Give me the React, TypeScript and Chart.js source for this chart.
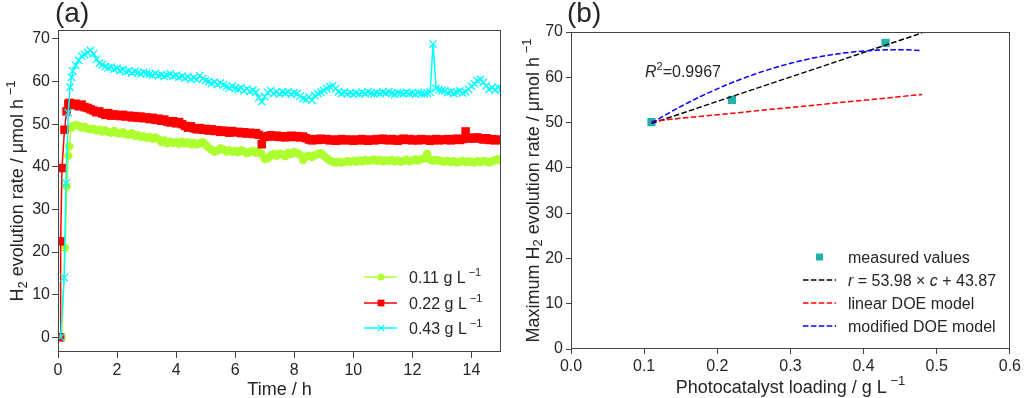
import React, { useEffect, useRef } from "react";
import { Chart, registerables } from "chart.js";

Chart.register(...registerables);

const FONT = "'Liberation Sans', Arial, Helvetica, sans-serif";
const INK = "#262626";
const SPINE = "#444444";

// ---------------- Panel (a): H2 evolution vs time ----------------
const TIME_GRID = [
  0.5, 0.6, 0.7, 0.8, 0.9, 1.0,
  1.1, 1.2, 1.3, 1.4, 1.5, 1.6, 1.7, 1.8, 1.9, 2.0,
  2.1, 2.2, 2.3, 2.4, 2.5, 2.6, 2.7, 2.8, 2.9, 3.0,
  3.1, 3.2, 3.3, 3.4, 3.5, 3.6, 3.7, 3.8, 3.9, 4.0,
  4.1, 4.2, 4.3, 4.4, 4.5, 4.6, 4.7, 4.8, 4.9, 5.0,
  5.1, 5.2, 5.3, 5.4, 5.5, 5.6, 5.7, 5.8, 5.9, 6.0,
  6.1, 6.2, 6.3, 6.4, 6.5, 6.6, 6.7, 6.8, 6.9, 7.0,
  7.1, 7.2, 7.3, 7.4, 7.5, 7.6, 7.7, 7.8, 7.9, 8.0,
  8.1, 8.2, 8.3, 8.4, 8.5, 8.6, 8.7, 8.8, 8.9, 9.0,
  9.1, 9.2, 9.3, 9.4, 9.5, 9.6, 9.7, 9.8, 9.9, 10.0,
  10.1, 10.2, 10.3, 10.4, 10.5, 10.6, 10.7, 10.8, 10.9, 11.0,
  11.1, 11.2, 11.3, 11.4, 11.5, 11.6, 11.7, 11.8, 11.9, 12.0,
  12.1, 12.2, 12.3, 12.4, 12.5, 12.6, 12.7, 12.8, 12.9, 13.0,
  13.1, 13.2, 13.3, 13.4, 13.5, 13.6, 13.7, 13.8, 13.9, 14.0,
  14.1, 14.2, 14.3, 14.4, 14.5, 14.6, 14.7, 14.8, 14.9, 15.0,
];

// 0.11 g/L
const LOW_RAMP_T = [0.12, 0.24, 0.3, 0.35, 0.38, 0.44];
const LOW_RAMP_V = [0, 21.0, 35.4, 42.6, 44.8, 49.1];
const LOW_GRID_V = [
  49.5, 49.8, 49.6, 49.2, 49.4, 49.0,
  48.8, 48.9, 48.5, 48.7, 48.3, 48.6, 48.2, 48.0, 48.4, 47.9,
  47.8, 48.1, 47.6, 47.5, 47.9, 47.3, 47.4, 47.0, 47.2, 46.8,
  47.0, 46.6, 46.9, 46.5, 45.8, 46.2, 45.5, 45.9, 45.6, 45.8,
  45.4, 45.9, 45.5, 45.7, 45.3, 45.6, 45.2, 45.5, 45.8, 45.1,
  44.5, 44.0, 43.5, 43.8, 44.3, 44.1, 43.6, 43.9, 43.5, 43.7,
  43.4, 43.9, 43.6, 43.2, 43.5, 43.7, 43.3, 43.6, 43.0, 41.8,
  42.0, 42.6, 43.0, 42.6, 43.1, 42.9, 42.5, 43.3, 43.0, 43.5,
  43.2, 42.8, 41.6, 42.4, 42.6, 42.3, 42.7, 43.0, 43.2, 42.6,
  42.0, 41.5, 41.2, 41.0, 41.2, 41.0, 41.1, 41.3, 41.2, 41.4,
  41.2, 41.5, 41.3, 41.6, 41.4, 41.5, 41.7, 41.4, 41.6, 41.3,
  41.5, 41.4, 41.6, 41.3, 41.5, 41.2, 41.4, 41.6, 41.3, 41.5,
  41.7, 41.5, 41.8, 42.0, 43.0, 41.7, 41.4, 41.6, 41.5, 41.3,
  41.2, 41.4, 41.1, 41.3, 41.0, 41.2, 41.4, 41.1, 41.3, 41.2,
  41.0, 41.3, 41.1, 41.4, 41.2, 41.0, 41.3, 41.6, 41.8, 41.4,
];

// 0.22 g/L
const MID_RAMP_T = [0.07, 0.09, 0.135, 0.22, 0.29, 0.35, 0.4];
const MID_RAMP_V = [0, 22.5, 39.7, 48.7, 53.0, 54.8, 55.0];
const MID_GRID_V = [
  54.5, 54.8, 54.2, 54.6, 54.0, 53.8,
  53.5, 53.2, 52.8, 53.0, 52.5, 52.2, 52.6, 52.0, 52.3, 52.1,
  51.9, 52.2, 51.8, 52.0, 51.6, 51.9, 51.5, 51.8, 51.4, 51.6,
  51.2, 51.5, 51.0, 51.3, 50.8, 51.1, 50.6, 50.4, 50.7, 50.2,
  50.5, 50.0, 49.6, 49.2, 49.5, 49.0, 48.8, 49.1, 48.7, 48.9,
  48.5, 48.8, 48.4, 48.6, 48.2, 48.5, 48.3, 48.0, 48.4, 48.1,
  48.2, 47.9, 48.1, 47.8, 48.0, 47.7, 47.9, 47.5, 45.3, 47.0,
  47.2, 47.4, 47.1, 47.3, 47.0, 47.2, 46.9, 47.1, 47.3, 47.0,
  47.2, 46.9, 47.1, 46.7, 46.4, 46.2, 46.5, 46.3, 46.6, 46.4,
  46.5, 46.2, 46.4, 46.1, 46.3, 46.5, 46.2, 46.4, 46.3, 46.1,
  46.4, 46.2, 46.5, 46.3, 46.1, 46.4, 46.2, 46.5, 46.3, 46.6,
  46.4, 46.2, 46.5, 46.3, 46.1, 46.4, 46.6, 46.3, 46.5, 46.2,
  46.4, 46.2, 46.5, 46.3, 46.4, 46.1, 46.3, 46.5, 46.2, 46.4,
  46.3, 46.5, 46.2, 46.4, 46.6, 46.3, 46.5, 48.3, 46.8, 46.6,
  46.8, 46.9, 46.6, 46.4, 46.7, 46.3, 46.5, 46.2, 46.4, 46.3,
];

// 0.43 g/L
const HIGH_RAMP_T = [0.09, 0.21, 0.27, 0.35, 0.41, 0.46];
const HIGH_RAMP_V = [0, 14.0, 36.2, 52.7, 58.7, 61.0];
const HIGH_GRID_V = [
  62.5, 63.8, 65.0, 66.0, 66.3, 66.8,
  67.3, 66.5, 65.2, 64.3, 64.0, 63.5, 63.2, 63.4, 62.9, 63.1,
  62.6, 62.8, 62.3, 62.5, 62.0, 62.4, 62.1, 61.8, 62.2, 61.9,
  61.7, 61.5, 61.9, 61.4, 61.6, 61.2, 61.5, 61.8, 61.3, 61.5,
  61.0, 61.3, 60.8, 61.1, 60.6, 60.9, 60.5, 61.4, 60.7, 60.3,
  60.0, 59.6, 59.9, 59.3, 59.7, 59.2, 58.8, 58.5, 58.9, 58.4,
  58.2, 58.6, 57.8, 58.3, 57.7, 58.0, 57.5, 56.2, 55.3, 56.5,
  57.4, 57.9, 57.2, 57.6, 57.1, 57.5, 57.3, 57.6, 57.0, 57.4,
  57.2, 56.6, 56.0, 55.8, 56.4, 55.6, 56.7, 57.2, 57.5, 57.9,
  58.4, 58.8, 59.0, 58.3, 57.6, 57.2, 57.5, 57.1, 57.4, 57.0,
  57.3, 57.1, 57.5, 57.2, 57.6, 57.3, 57.1, 57.4, 57.2, 57.5,
  57.3, 57.6, 57.2, 57.0, 57.4, 57.3, 57.1, 57.5, 57.2, 57.3,
  57.0, 57.4, 57.2, 57.1, 57.3, 57.5, 68.8, 58.4, 58.1, 57.9,
  57.8, 57.4, 57.6, 57.2, 57.5, 57.8, 57.3, 57.6, 58.2, 58.9,
  59.5, 60.2, 60.5, 59.8, 59.0, 58.2, 58.6, 58.0, 58.7, 58.3,
];

const A_X_TICKS = [0, 2, 4, 6, 8, 10, 12, 14];
const A_Y_TICKS = [0, 10, 20, 30, 40, 50, 60, 70];
const LOADING_LABELS = ["0.11", "0.22", "0.43"];
const SERIES_COLORS = ["#adff2f", "#ff0000", "#00ffff"];

// ---------------- Panel (b): maximum rate vs loading ----------------
const MEAS_C = [0.11, 0.22, 0.43];
const MEAS_R = [50.1, 55.0, 67.6];
const FIT_C = [0.11, 0.48];
const FIT_R = [49.81, 69.78];
const LIN_C = [0.11, 0.48];
const LIN_R = [50.3, 56.2];
const MOD_C = [0.11, 0.15, 0.2, 0.25, 0.3, 0.35, 0.4, 0.45, 0.48];
const MOD_R = [49.9, 53.55, 57.45, 60.63, 63.08, 64.81, 65.81, 66.08, 65.89];
const B_X_TICKS = [0, 0.1, 0.2, 0.3, 0.4, 0.5, 0.6];
const B_Y_TICKS = [0, 10, 20, 30, 40, 50, 60, 70];
const R2_LABEL = "0.9967";
const FIT_SLOPE = "53.98";
const FIT_INTERCEPT = "43.87";

// ---------------- helpers ----------------
const pairs = (xs: number[], ys: number[]) => xs.map((x, i) => ({ x, y: ys[i] }));

type Part = { t: string; it?: boolean; sup?: boolean; sub?: boolean };
const fontOf = (p: Part, size: number) =>
  `${p.it ? "italic " : ""}${p.sup || p.sub ? Math.round(size * 0.7) : size}px ${FONT}`;

function drawRich(
  ctx: CanvasRenderingContext2D,
  parts: Part[],
  x: number,
  baseY: number,
  size: number,
  align: "left" | "center" | "right",
  color = INK
) {
  let total = 0;
  for (const p of parts) {
    ctx.font = fontOf(p, size);
    total += ctx.measureText(p.t).width;
  }
  let cx = align === "center" ? x - total / 2 : align === "right" ? x - total : x;
  ctx.fillStyle = color;
  ctx.textAlign = "left";
  ctx.textBaseline = "alphabetic";
  for (const p of parts) {
    ctx.font = fontOf(p, size);
    const dy = p.sup ? -size * 0.42 : p.sub ? size * 0.22 : 0;
    ctx.fillText(p.t, cx, baseY + dy);
    cx += ctx.measureText(p.t).width;
  }
}

function drawFrame(chart: any) {
  const { ctx, chartArea } = chart;
  ctx.save();
  ctx.strokeStyle = SPINE;
  ctx.lineWidth = 1;
  const l = Math.round(chartArea.left) + 0.5;
  const t = Math.round(chartArea.top) + 0.5;
  const r = Math.round(chartArea.right) - 0.5;
  const b = Math.round(chartArea.bottom) - 0.5;
  ctx.strokeRect(l, t, r - l, b - t);
  ctx.restore();
}

function axisCommon(ticksList: number[], tickLen: number, pad: number, fmt?: (v: number) => string) {
  return {
    type: "linear" as const,
    afterBuildTicks: (s: any) => {
      s.ticks = ticksList.map((v) => ({ value: v }));
    },
    ticks: {
      font: { family: FONT, size: 16 },
      color: INK,
      padding: pad,
      maxRotation: 0,
      autoSkip: false,
      callback: (v: any) => (fmt ? fmt(Number(v)) : String(v)),
    },
    grid: {
      display: true,
      drawOnChartArea: false,
      drawTicks: true,
      tickLength: tickLen,
      tickColor: SPINE,
      tickWidth: 1,
    },
    border: { display: false },
    title: { display: false },
  };
}

const titleA: Part[] = [{ t: "H" }, { t: "2", sub: true }, { t: " evolution rate / μmol h" }, { t: " −1", sup: true }];
const titleB: Part[] = [
  { t: "Maximum H" },
  { t: "2", sub: true },
  { t: " evolution rate / μmol h" },
  { t: " −1", sup: true },
];

const panelAPlugin = {
  id: "panelA",
  afterDraw(chart: any) {
    const { ctx, chartArea } = chart;
    drawFrame(chart);
    ctx.save();
    ctx.fillStyle = INK;
    ctx.font = `28px ${FONT}`;
    ctx.textAlign = "left";
    ctx.textBaseline = "alphabetic";
    ctx.fillText("(a)", 55, 22);
    drawRich(ctx, [{ t: "Time / h" }], (chartArea.left + chartArea.right) / 2, 395, 18, "center");
    ctx.save();
    ctx.translate(23, (chartArea.top + chartArea.bottom) / 2);
    ctx.rotate(-Math.PI / 2);
    drawRich(ctx, titleA, 0, 0, 18, "center");
    ctx.restore();
    const rows = [277, 303, 328];
    LOADING_LABELS.forEach((lab, i) => {
      const y = rows[i];
      const c = SERIES_COLORS[i];
      ctx.strokeStyle = c;
      ctx.fillStyle = c;
      ctx.lineWidth = 1.5;
      ctx.beginPath();
      ctx.moveTo(364, y);
      ctx.lineTo(397, y);
      ctx.stroke();
      const mx = 381;
      if (i === 0) {
        ctx.beginPath();
        ctx.arc(mx, y, 3.6, 0, Math.PI * 2);
        ctx.fill();
      } else if (i === 1) {
        ctx.fillRect(mx - 3.4, y - 3.4, 6.8, 6.8);
      } else {
        ctx.lineWidth = 1.2;
        ctx.beginPath();
        ctx.moveTo(mx - 3.4, y - 3.4);
        ctx.lineTo(mx + 3.4, y + 3.4);
        ctx.moveTo(mx - 3.4, y + 3.4);
        ctx.lineTo(mx + 3.4, y - 3.4);
        ctx.stroke();
      }
      drawRich(ctx, [{ t: `${lab} g L` }, { t: " −1", sup: true }], 409, y + 6, 16, "left");
    });
    ctx.restore();
  },
};

const panelBPlugin = {
  id: "panelB",
  afterDraw(chart: any) {
    const { ctx, chartArea } = chart;
    drawFrame(chart);
    ctx.save();
    ctx.fillStyle = INK;
    ctx.font = `28px ${FONT}`;
    ctx.textAlign = "left";
    ctx.textBaseline = "alphabetic";
    ctx.fillText("(b)", 57, 22);
    drawRich(
      ctx,
      [{ t: "Photocatalyst loading / g L" }, { t: " −1", sup: true }],
      (chartArea.left + chartArea.right) / 2,
      393,
      18,
      "center"
    );
    ctx.save();
    ctx.translate(28.5, (chartArea.top + chartArea.bottom) / 2);
    ctx.rotate(-Math.PI / 2);
    drawRich(ctx, titleB, 0, 0, 18, "center");
    ctx.restore();
    drawRich(ctx, [{ t: "R", it: true }, { t: "2", sup: true }, { t: "=" + R2_LABEL }], 135, 77, 16, "left");
    const x0 = 293;
    const x1 = 326;
    const tx = 338;
    const rows = [257, 280, 303, 326];
    ctx.fillStyle = "#20b2aa";
    ctx.fillRect((x0 + x1) / 2 - 3.5, rows[0] - 3.5, 7, 7);
    drawRich(ctx, [{ t: "measured values" }], tx, rows[0] + 6, 16, "left");
    const dashRow = (y: number, color: string) => {
      ctx.save();
      ctx.strokeStyle = color;
      ctx.lineWidth = 1.5;
      ctx.setLineDash([5.5, 2.4]);
      ctx.beginPath();
      ctx.moveTo(x0, y);
      ctx.lineTo(x1, y);
      ctx.stroke();
      ctx.restore();
    };
    dashRow(rows[1], "#000000");
    drawRich(
      ctx,
      [{ t: "r", it: true }, { t: ` = ${FIT_SLOPE} × ` }, { t: "c", it: true }, { t: ` + ${FIT_INTERCEPT}` }],
      tx,
      rows[1] + 6,
      16,
      "left"
    );
    dashRow(rows[2], "#ff0000");
    drawRich(ctx, [{ t: "linear DOE model" }], tx, rows[2] + 6, 16, "left");
    dashRow(rows[3], "#0000ff");
    drawRich(ctx, [{ t: "modified DOE model" }], tx, rows[3] + 6, 16, "left");
    ctx.restore();
  },
};

export default function App() {
  const refA = useRef<HTMLCanvasElement | null>(null);
  const refB = useRef<HTMLCanvasElement | null>(null);

  useEffect(() => {
    if (!refA.current || !refB.current) return;

    const lineSeries = (
      label: string,
      xs: number[],
      ys: number[],
      color: string,
      style: string,
      radius: number,
      bw: number,
      order: number
    ) => ({
      label,
      data: pairs(xs, ys),
      showLine: true,
      borderColor: color,
      backgroundColor: color,
      borderWidth: 1.5,
      pointStyle: style,
      pointRadius: radius,
      pointBorderWidth: bw,
      pointBorderColor: color,
      pointBackgroundColor: color,
      order,
    });

    const chartA = new Chart(refA.current, {
      type: "scatter",
      data: {
        datasets: [
          lineSeries(`${LOADING_LABELS[0]} g/L`, [...LOW_RAMP_T, ...TIME_GRID], [...LOW_RAMP_V, ...LOW_GRID_V], SERIES_COLORS[0], "circle", 4.2, 0, 3),
          lineSeries(`${LOADING_LABELS[1]} g/L`, [...MID_RAMP_T, ...TIME_GRID], [...MID_RAMP_V, ...MID_GRID_V], SERIES_COLORS[1], "rect", 6.0, 0, 2),
          lineSeries(`${LOADING_LABELS[2]} g/L`, [...HIGH_RAMP_T, ...TIME_GRID], [...HIGH_RAMP_V, ...HIGH_GRID_V], SERIES_COLORS[2], "crossRot", 5.2, 1.3, 1),
        ],
      } as any,
      options: {
        responsive: false,
        animation: false,
        devicePixelRatio: 1,
        events: [],
        layout: { padding: { left: 0, right: 9, top: 30, bottom: 0 } },
        plugins: { legend: { display: false }, tooltip: { enabled: false } },
        scales: {
          x: { ...axisCommon(A_X_TICKS, 6, 3), min: 0, max: 15, afterFit: (s: any) => { s.height = 46; } },
          y: { ...axisCommon(A_Y_TICKS, 6, 2), min: -3.45, max: 72.1, afterFit: (s: any) => { s.width = 58; } },
        },
      } as any,
      plugins: [panelAPlugin],
    });

    const chartB = new Chart(refB.current, {
      type: "scatter",
      data: {
        datasets: [
          {
            label: "measured values",
            data: pairs(MEAS_C, MEAS_R),
            pointStyle: "rect",
            pointRadius: 5.8,
            pointBorderWidth: 0,
            backgroundColor: "#20b2aa",
            pointBackgroundColor: "#20b2aa",
            showLine: false,
            order: 4,
          },
          {
            label: "fit",
            data: pairs(FIT_C, FIT_R),
            showLine: true,
            borderColor: "#000000",
            borderWidth: 1.5,
            borderDash: [5.5, 2.4],
            pointRadius: 0,
            order: 3,
          },
          {
            label: "linear DOE model",
            data: pairs(LIN_C, LIN_R),
            showLine: true,
            borderColor: "#ff0000",
            borderWidth: 1.5,
            borderDash: [5.5, 2.4],
            pointRadius: 0,
            order: 2,
          },
          {
            label: "modified DOE model",
            data: pairs(MOD_C, MOD_R),
            showLine: true,
            borderColor: "#0000ff",
            borderWidth: 1.5,
            borderDash: [5.5, 2.4],
            pointRadius: 0,
            cubicInterpolationMode: "monotone",
            order: 1,
          },
        ],
      } as any,
      options: {
        responsive: false,
        animation: false,
        devicePixelRatio: 1,
        events: [],
        layout: { padding: { left: 0, right: 11, top: 32, bottom: 0 } },
        plugins: { legend: { display: false }, tooltip: { enabled: false } },
        scales: {
          x: {
            ...axisCommon(B_X_TICKS, 5, 3, (v) => v.toFixed(1)),
            min: 0,
            max: 0.6,
            afterFit: (s: any) => { s.height = 49; },
          },
          y: { ...axisCommon(B_Y_TICKS, 5, 3), min: 0, max: 70, afterFit: (s: any) => { s.width = 61; } },
        },
      } as any,
      plugins: [panelBPlugin],
    });

    return () => {
      chartA.destroy();
      chartB.destroy();
    };
  }, []);

  return (
    <div style={{ position: "absolute", left: 0, top: 0, width: 1024, height: 398, background: "#fff" }}>
      <canvas ref={refA} width={510} height={398} style={{ position: "absolute", left: 0, top: 0, width: 510, height: 398 }} />
      <canvas ref={refB} width={514} height={398} style={{ position: "absolute", left: 510, top: 0, width: 514, height: 398 }} />
    </div>
  );
}
